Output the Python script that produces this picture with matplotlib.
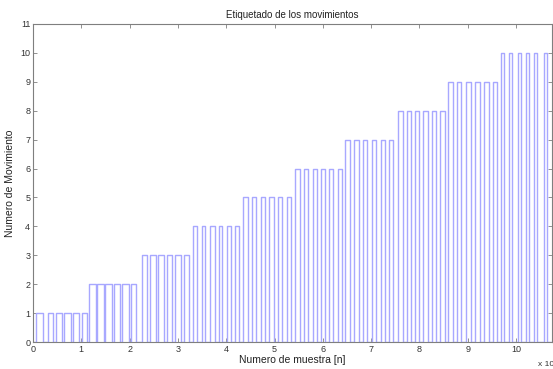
import numpy as np
import matplotlib
matplotlib.use("Agg")
import matplotlib.pyplot as plt

# Etiquetas de movimiento (1..10) y flancos de cada pulso, en unidades de x10^4 muestras
niveles = [1, 2, 3, 4, 5, 6, 7, 8, 9, 10]
subidas = [
    [0.06, 0.30, 0.47, 0.64, 0.82, 1.01],
    [1.15, 1.33, 1.50, 1.68, 1.85, 2.02],
    [2.25, 2.42, 2.59, 2.77, 2.94, 3.13],
    [3.31, 3.49, 3.66, 3.84, 4.01, 4.18],
    [4.35, 4.53, 4.71, 4.89, 5.07, 5.25],
    [5.42, 5.61, 5.79, 5.96, 6.13, 6.31],
    [6.46, 6.65, 6.84, 7.01, 7.20, 7.36],
    [7.56, 7.74, 7.91, 8.08, 8.27, 8.43],
    [8.60, 8.78, 8.96, 9.16, 9.34, 9.52],
    [9.68, 9.86, 10.03, 10.21, 10.37, 10.57],
]
bajadas = [
    [0.21, 0.42, 0.61, 0.79, 0.96, 1.12],
    [1.30, 1.46, 1.63, 1.81, 1.98, 2.13],
    [2.37, 2.54, 2.72, 2.88, 3.06, 3.23],
    [3.39, 3.56, 3.77, 3.92, 4.09, 4.27],
    [4.46, 4.62, 4.80, 4.98, 5.15, 5.34],
    [5.53, 5.70, 5.87, 6.05, 6.22, 6.39],
    [6.56, 6.74, 6.92, 7.10, 7.29, 7.46],
    [7.65, 7.82, 8.00, 8.17, 8.34, 8.52],
    [8.69, 8.87, 9.06, 9.25, 9.43, 9.60],
    [9.75, 9.92, 10.10, 10.27, 10.44, 10.64],
]
x_fin = 10.75

# señal escalonada: 0 -> nivel -> 0 en cada pulso
xs, ys = [0.0], [0.0]
for k, sub, baj in zip(niveles, subidas, bajadas):
    for r, f in zip(sub, baj):
        xs += [r, r, f, f]
        ys += [0, k, k, 0]
xs.append(x_fin)
ys.append(0)

plt.rcParams['font.family'] = ['Liberation Sans', 'DejaVu Sans']
gris = '#7f7f7f'

fig = plt.figure(figsize=(5.53, 3.69), dpi=100)
ax = fig.add_axes([0.0597, 0.073, 0.939, 0.862])
ax.plot(xs, ys, color='#a8a8ff', lw=1.0)

ax.set_xlim(0, x_fin)
ax.set_ylim(0, 11)
ax.set_xticks(range(0, 11))
ax.set_yticks(range(0, 12))
ax.tick_params(direction='in', length=3, width=0.6, colors=gris,
               labelcolor='#333333', labelsize=6.5, top=True, right=True, pad=2)
for s in ax.spines.values():
    s.set_color(gris)
    s.set_linewidth(0.8)

ax.set_title('Etiquetado de los movimientos', fontsize=7, color='#222222', pad=4)
ax.set_xlabel('Numero de muestra [n]', fontsize=7.5, color='#222222', labelpad=1)
ax.set_ylabel('Numero de Movimiento', fontsize=7.5, color='#222222', labelpad=4)
fig.text(0.972, 0.008, 'x 10', fontsize=6, color='#333333')

fig.savefig('out.png', dpi=100, facecolor='white')
